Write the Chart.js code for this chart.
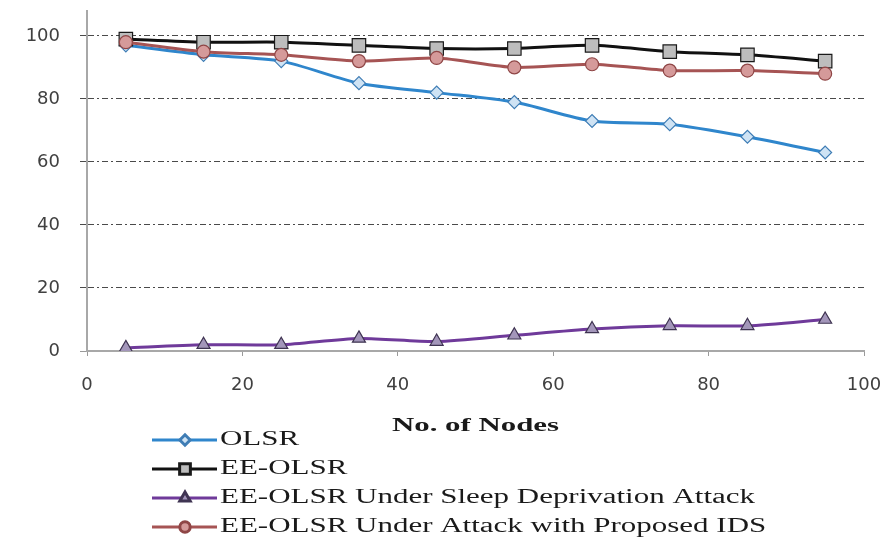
<!DOCTYPE html>
<html>
<head>
<meta charset="utf-8">
<script src="https://cdn.jsdelivr.net/npm/chart.js@4.4.1/dist/chart.umd.min.js"></script>
<style>
  html, body { margin: 0; padding: 0; background: #fff; }
  #wrap { position: relative; width: 891px; height: 541px; }
</style>
</head>
<body>
<div id="wrap"><canvas id="chart" width="891" height="541"></canvas></div>
<script>
// --- DATA ---
const nodes = [5, 15, 25, 35, 45, 55, 65, 75, 85, 95];
const olsr = [97, 94, 92, 85, 82, 79, 73, 72, 68, 63];
const eeOlsr = [99, 98, 98, 97, 96, 96, 97, 95, 94, 92];
const sleepAttack = [1, 2, 2, 4, 3, 5, 7, 8, 8, 10];
const withIds = [98, 95, 94, 92, 93, 90, 91, 89, 89, 88];
const seriesNames = [
    'OLSR',
    'EE-OLSR',
    'EE-OLSR Under Sleep Deprivation Attack',
    'EE-OLSR Under Attack with Proposed IDS'
];
const xTicks = [0, 20, 40, 60, 80, 100];
const yTicks = [0, 20, 40, 60, 80, 100];
const xTitle = 'No. of Nodes';

const DASH = [6, 3, 2, 3];

function pts(values) {
    return nodes.map((n, i) => ({ x: n, y: values[i] }));
}

// marker look per series (same order as seriesNames)
const styles = [
    { line: '#2f86cc', fill: '#cfe3f4', edge: '#3f7db5', shape: 'rectRot', r: 6.5 },
    { line: '#111111', fill: '#bdbdbd', edge: '#1a1a1a', shape: 'rect', r: 9.5 },
    { line: '#6f3a9a', fill: '#a396ba', edge: '#3f3452', shape: 'triangle', r: 7.5 },
    { line: '#a65454', fill: '#d59a9a', edge: '#8f4646', shape: 'circle', r: 6.5 }
];
const seriesData = [olsr, eeOlsr, sleepAttack, withIds];

// --- legend + axis title drawn under the plot, wide serif like the source ---
const bottomText = {
    id: 'bottomText',
    afterDraw(chart) {
        const ctx = chart.ctx;
        const area = chart.chartArea;

        ctx.save();
        ctx.fillStyle = '#1a1a1a';
        ctx.textBaseline = 'middle';
        ctx.textAlign = 'center';
        ctx.font = 'bold 19px "Liberation Serif"';
        const tw = ctx.measureText(xTitle).width;
        ctx.translate((area.left + area.right) / 2, 426);
        ctx.scale(167 / tw, 1);
        ctx.fillText(xTitle, 0, 0);
        ctx.restore();

        ctx.save();
        ctx.font = '20px "Liberation Serif"';
        const sx = 535 / ctx.measureText(seriesNames[2]).width;
        const rows = [440, 469, 498, 527];
        seriesNames.forEach((name, i) => {
            const st = styles[i];
            const y = rows[i];
            ctx.save();
            ctx.strokeStyle = st.line;
            ctx.lineWidth = 3;
            ctx.beginPath();
            ctx.moveTo(152, y);
            ctx.lineTo(217, y);
            ctx.stroke();
            ctx.fillStyle = st.fill;
            ctx.strokeStyle = st.edge;
            Chart.helpers.drawPoint(ctx, {
                pointStyle: st.shape, radius: st.r * 0.8, rotation: 0, borderWidth: 1.2
            }, 185, y);
            ctx.restore();

            ctx.save();
            ctx.fillStyle = '#1a1a1a';
            ctx.textBaseline = 'middle';
            ctx.textAlign = 'left';
            ctx.translate(220, y);
            ctx.scale(sx, 1);
            ctx.fillText(name, 0, 0);
            ctx.restore();
        });
        ctx.restore();
    }
};

const datasets = seriesNames.map((name, i) => ({
    label: name,
    data: pts(seriesData[i]),
    borderColor: styles[i].line,
    borderWidth: 3,
    tension: 0.25,
    pointStyle: styles[i].shape,
    pointRadius: styles[i].r,
    pointBackgroundColor: styles[i].fill,
    pointBorderColor: styles[i].edge,
    pointBorderWidth: 1.2,
    order: 4 - i
}));

new Chart(document.getElementById('chart'), {
    type: 'line',
    data: { datasets },
    options: {
        responsive: false,
        animation: false,
        devicePixelRatio: 1,
        layout: { padding: { left: 0, right: 27, top: 5, bottom: 0 } },
        plugins: { legend: { display: false }, tooltip: { enabled: false } },
        scales: {
            x: {
                type: 'linear',
                min: 0,
                max: 100,
                afterBuildTicks: s => { s.ticks = xTicks.map(v => ({ value: v })); },
                afterFit: s => {
                    s.height = 190;
                    s.paddingLeft = 0;
                    s.paddingRight = 0;
                },
                grid: { drawOnChartArea: false, tickLength: 5, tickColor: '#9a9a9a', tickWidth: 1 },
                border: { color: '#a8a8a8', width: 2 },
                ticks: {
                    padding: 19,
                    color: '#404040',
                    maxRotation: 0,
                    font: { family: 'DejaVu Sans', size: 18 }
                }
            },
            y: {
                min: 0,
                max: 108,
                afterBuildTicks: s => { s.ticks = yTicks.map(v => ({ value: v })); },
                afterFit: s => {
                    s.width = 87;
                    s.paddingTop = 0;
                    s.paddingBottom = 0;
                },
                grid: {
                    color: c => (c.tick && c.tick.value === 0 ? 'rgba(0,0,0,0)' : '#4a4a4a'),
                    tickColor: c => (c.tick && c.tick.value === 0 ? '#9a9a9a' : '#4a4a4a'),
                    lineWidth: 1,
                    tickLength: 7,
                    tickBorderDash: DASH
                },
                border: { color: '#a8a8a8', width: 2, dash: DASH },
                ticks: {
                    padding: 20,
                    color: '#404040',
                    font: { family: 'DejaVu Sans', size: 18 }
                }
            }
        }
    },
    plugins: [bottomText]
});
</script>
</body>
</html>
